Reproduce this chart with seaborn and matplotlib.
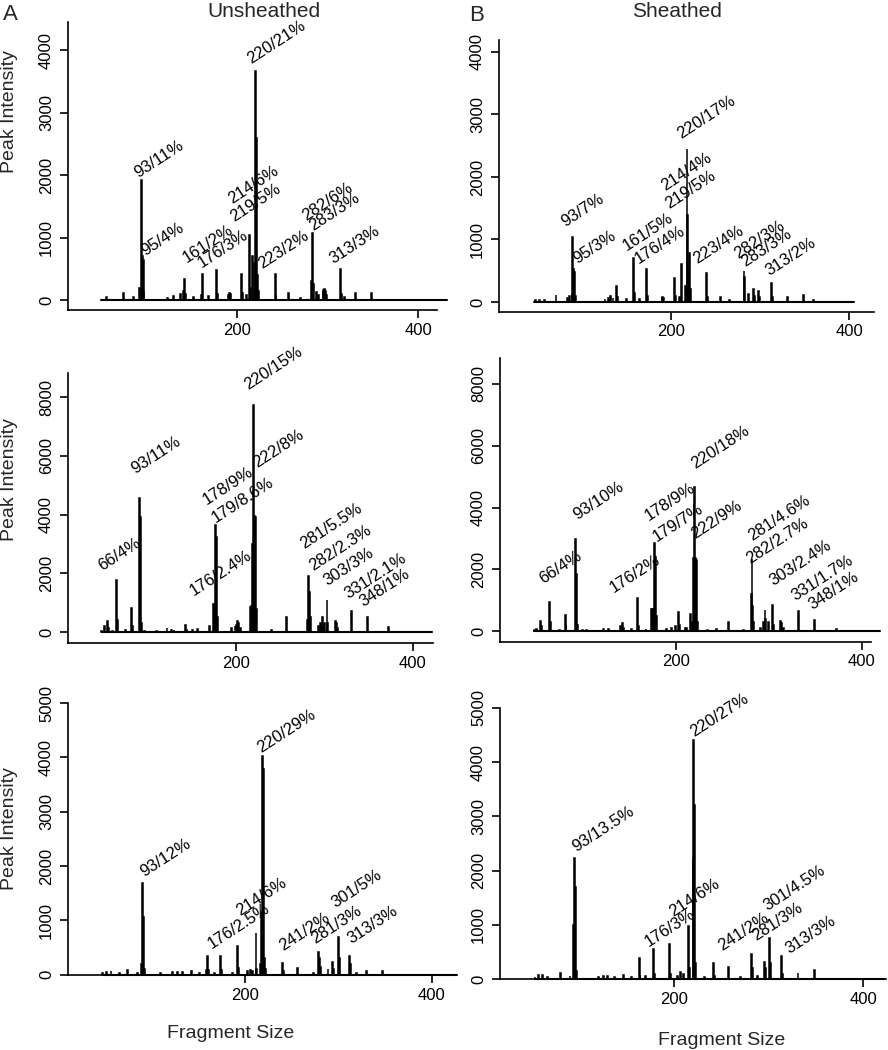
"""
Fragment size profiles, unsheathed vs sheathed (3 x 2 panels)
"""
import matplotlib
matplotlib.use('Agg')
import matplotlib.pyplot as plt
import seaborn as sns

sns.set_theme(style='ticks')
plt.rcParams['font.family'] = ['Liberation Sans', 'DejaVu Sans']

# ---- Panel A (unsheathed, top) ----
a_size = [56, 74, 85, 92, 94, 95, 96, 97, 123, 130, 137, 141, 142, 143, 152, 161, 162, 168,
          177, 178, 190, 191, 192, 193, 205, 206, 210, 214, 215, 217, 219, 220, 221, 222, 223,
          224, 242, 243, 257, 270, 282, 283, 284, 288, 290, 295, 296, 297, 298, 299, 314, 315,
          319, 331, 349]
a_height = [50, 115, 50, 200, 1920, 700, 640, 150, 40, 60, 100, 150, 330, 100, 50, 80, 420, 60,
            480, 100, 80, 100, 110, 90, 420, 120, 80, 1040, 200, 700, 600, 3670, 2600, 420, 400,
            150, 420, 80, 110, 30, 300, 1077, 250, 130, 80, 150, 160, 170, 150, 80, 490, 100,
            50, 117, 117]
a_scan = [50, 432]
a_labels = ['93/11%', '95/4%', '161/2%', '176/3%', '214/6%', '219/5%', '220/21%', '223/2%',
            '282/6%', '283/3%', '313/3%']
a_lab_x = [92, 100, 146, 162.6, 195.8, 198, 217.3, 229, 277.7, 286, 308]
a_lab_y = [1920, 670, 560, 480, 1490, 1216, 3744, 453, 1227, 1070, 533]

# ---- Panel B (sheathed, top) ----
b_size = [48, 52, 58, 71, 84, 86, 89, 90, 91, 92, 93, 126, 130, 132, 135, 139, 140, 150, 158,
          159, 165, 173, 174, 190, 191, 192, 204, 205, 210, 212, 216, 217, 218, 219, 220, 221,
          222, 240, 241, 256, 266, 282, 283, 287, 293, 294, 298, 299, 313, 314, 331, 349, 360]
b_height = [30, 30, 30, 112, 60, 100, 150, 1035, 520, 485, 100, 40, 60, 100, 60, 256, 80, 40,
            700, 150, 40, 523, 100, 80, 80, 60, 389, 100, 80, 608, 250, 250, 2450, 1390, 500,
            780, 200, 459, 80, 80, 30, 496, 400, 120, 200, 100, 180, 80, 300, 80, 80, 112, 30]
b_scan = [46, 405]
b_labels = ['93/7%', '95/3%', '161/5%', '176/4%', '214/4%', '219/5%', '220/17%', '223/4%',
            '282/3%', '283/3%', '313/2%']
b_lab_x = [83.5, 96.6, 152.8, 166, 195, 199.6, 213.8, 231.4, 277.5, 285.7, 312]
b_lab_y = [1152, 565, 779, 565, 1739, 1445, 2565, 565, 645, 512, 379]

# ---- Panel C (unsheathed, middle) ----
c_size = [48, 51, 55, 56, 60, 65, 66, 75, 82, 83, 91, 92, 93, 97, 110, 122, 127, 130, 143, 144,
          151, 157, 170, 175, 176, 177, 178, 179, 195, 199, 201, 202, 203, 205, 216, 217, 218,
          219, 220, 221, 222, 223, 240, 257, 281, 282, 283, 284, 293, 296, 298, 300, 303, 304,
          313, 314, 315, 331, 349, 373]
c_height = [50, 194, 387, 150, 50, 1763, 400, 60, 822, 200, 4553, 3900, 300, 40, 30, 150, 60,
            60, 250, 80, 80, 100, 200, 950, 960, 3640, 3250, 500, 150, 200, 250, 370, 300, 150,
            850, 860, 900, 3000, 7740, 3940, 3900, 800, 80, 512, 400, 1900, 1360, 500, 200, 300,
            512, 300, 1080, 300, 370, 300, 150, 720, 512, 170]
c_scan = [48, 422]
c_labels = ['66/4%', '93/11%', '176/2.4%', '178/9%', '179/8.6%', '220/15%', '222/8%',
            '281/5.5%', '282/2.3%', '303/3%', '331/2.1%', '348/1%']
c_lab_x = [50.2, 88.5, 154, 169, 178.6, 216, 225.4, 279, 289.3, 305.4, 328.7, 345.6]
c_lab_y = [2003, 5300, 1140, 4250, 3640, 8150, 5510, 2740, 2003, 1490, 1035, 750]

# ---- Panel D (sheathed, middle) ----
d_size = [48, 50, 55, 56, 64, 65, 75, 81, 82, 92, 93, 94, 100, 104, 122, 128, 141, 143, 144,
          152, 159, 160, 168, 174, 175, 176, 177, 178, 179, 190, 195, 200, 203, 204, 210, 212,
          216, 217, 218, 219, 220, 221, 222, 223, 234, 244, 257, 273, 281, 282, 283, 284, 291,
          294, 296, 297, 300, 304, 305, 313, 314, 316, 332, 349, 373]
d_height = [40, 76, 313, 150, 940, 300, 40, 508, 200, 2994, 1860, 200, 30, 30, 60, 60, 150, 260,
            100, 50, 1081, 150, 80, 700, 700, 700, 2860, 2400, 500, 80, 100, 150, 600, 200, 100,
            100, 560, 250, 300, 2350, 4650, 2350, 2300, 300, 40, 50, 292, 40, 1200, 2346, 800,
            300, 100, 300, 692, 400, 300, 832, 200, 313, 250, 100, 638, 346, 50]
d_scan = [48, 420]
d_labels = ['66/4%', '93/10%', '176/2%', '178/9%', '179/7%', '220/18%', '222/9%', '281/4.6%',
            '282/2.7%', '303/2.4%', '331/1.7%', '348/1%']
d_lab_x = [59.5, 95.3, 134.8, 172.4, 181.4, 222.6, 222.6, 284.2, 281.7, 306.8, 330.8, 348.7]
d_lab_y = [1427, 3502, 1157, 3481, 2810, 5156, 2886, 2832, 2075, 1373, 886, 584]

# ---- Panel E (unsheathed, bottom) ----
e_size = [48, 52, 57, 66, 75, 85, 90, 91, 92, 93, 110, 123, 128, 133, 143, 152, 159, 160, 161,
          168, 174, 175, 187, 192, 193, 203, 206, 208, 212, 213, 217, 218, 219, 220, 221, 222,
          240, 241, 256, 273, 279, 280, 281, 289, 294, 295, 300, 301, 312, 313, 319, 330, 347]
e_height = [40, 50, 60, 30, 80, 30, 200, 1695, 1070, 100, 30, 50, 50, 50, 60, 30, 80, 339, 80,
            40, 339, 80, 40, 530, 120, 70, 80, 70, 770, 100, 200, 1150, 4026, 3780, 300, 100,
            216, 60, 130, 40, 420, 300, 150, 100, 234, 100, 697, 300, 345, 200, 40, 60, 60]
e_scan = [48, 427]
e_labels = ['93/12%', '176/2.5%', '214/6%', '220/29%', '241/2%', '281/3%', '301/5%', '313/3%']
e_lab_x = [94, 166, 196.4, 219.6, 242.9, 276.8, 298.2, 315.4]
e_lab_y = [1757, 419, 1036, 4038, 388, 512, 1190, 512]

# ---- Panel F (sheathed, bottom) ----
f_size = [53, 57, 61, 66, 80, 90, 94, 95, 96, 97, 120, 125, 130, 137, 147, 155, 163, 164, 170,
          178, 179, 195, 196, 204, 207, 210, 215, 216, 220, 221, 222, 223, 232, 242, 243, 258,
          270, 282, 283, 288, 296, 297, 301, 302, 314, 315, 331, 348]
f_height = [40, 70, 70, 30, 105, 60, 1000, 2229, 1700, 150, 40, 50, 50, 40, 80, 30, 382, 80, 50,
            548, 100, 640, 100, 60, 130, 100, 970, 200, 2230, 4415, 3210, 300, 40, 290, 60, 228,
            40, 462, 200, 60, 320, 200, 764, 300, 425, 100, 105, 166]
f_scan = [53, 422]
f_labels = ['93/13.5%', '176/3%', '214/6%', '220/27%', '241/2%', '281/3%', '301/4.5%', '313/3%']
f_lab_x = [97.9, 174.6, 200.7, 222.9, 252.8, 288, 300.4, 323.2]
f_lab_y = [2291, 548, 1090, 4415, 474, 659, 1213, 413]

W, H = 888, 1050


def draw_panel(rect, sizes, heights, scan, labels, lab_x, lab_y, xlim, ylim, yticks):
    """1パネル分を描く (rect はピクセル: left, right, top, bottom)"""
    left, right, top, bottom = rect
    ax = fig.add_axes([left / W, 1 - bottom / H, (right - left) / W, (bottom - top) / H])
    sns.histplot(x=sizes, weights=heights, discrete=True, color='black', edgecolor='black',
                 linewidth=1.1, alpha=1, ax=ax)
    sns.lineplot(x=scan, y=[0, 0], color='black', linewidth=1.5, ax=ax, clip_on=False)
    for txt, lx, ly in zip(labels, lab_x, lab_y):
        ax.text(lx, ly, txt, rotation=33, rotation_mode='anchor', ha='left', va='bottom',
                fontsize=12, color='black')
    ax.set_xlim(*xlim)
    ax.set_ylim(*ylim)
    ax.set_xticks([200, 400])
    ax.set_yticks(yticks)
    ax.set_xlabel('')
    ax.set_ylabel('')
    ax.set_facecolor('white')
    sns.despine(ax=ax)
    for sp in ['left', 'bottom']:
        ax.spines[sp].set_linewidth(1.2)
        ax.spines[sp].set_color('black')
    ax.tick_params(axis='both', length=6, width=1.2, labelsize=12, colors='black')
    ax.tick_params(axis='x', pad=3)
    ax.tick_params(axis='y', pad=4)
    plt.setp(ax.get_yticklabels(), rotation=90, va='center')
    return ax


fig = plt.figure(figsize=(8.88, 10.5), dpi=100)
fig.patch.set_facecolor('white')

draw_panel((68, 437, 22, 310), a_size, a_height, a_scan, a_labels, a_lab_x, a_lab_y,
           (13, 421), (-160, 4450), [0, 1000, 2000, 3000, 4000])
draw_panel((499, 874, 40, 312), b_size, b_height, b_scan, b_labels, b_lab_x, b_lab_y,
           (7, 428), (-160, 4190), [0, 1000, 2000, 3000, 4000])
draw_panel((68, 433, 373, 643), c_size, c_height, c_scan, c_labels, c_lab_x, c_lab_y,
           (10, 423), (-374, 8817), [0, 2000, 4000, 6000, 8000])
draw_panel((500, 871, 358, 642), d_size, d_height, d_scan, d_labels, d_lab_x, d_lab_y,
           (11, 410), (-356, 8842), [0, 2000, 4000, 6000, 8000])
draw_panel((68, 444, 703, 975), e_size, e_height, e_scan, e_labels, e_lab_x, e_lab_y,
           (11, 413), (-5, 5000), [0, 1000, 2000, 3000, 4000, 5000])
draw_panel((500, 886, 708, 979), f_size, f_height, f_scan, f_labels, f_lab_x, f_lab_y,
           (16, 424), (0, 5000), [0, 1000, 2000, 3000, 4000, 5000])

# 見出し・軸ラベル
fig.text(3 / W, 1 - 20 / H, 'A', fontsize=16, ha='left', va='baseline')
fig.text(469 / W, 1 - 21 / H, 'B', fontsize=16, ha='left', va='baseline')
fig.text(264 / W, 1 - 17 / H, 'Unsheathed', fontsize=15, ha='center', va='baseline')
fig.text(677 / W, 1 - 17 / H, 'Sheathed', fontsize=15, ha='center', va='baseline')
for yc in [112, 480, 829]:
    fig.text(10 / W, 1 - yc / H, 'Peak Intensity', fontsize=14, rotation=90,
             ha='center', va='center')
fig.text(231 / W, 1 - 1038 / H, 'Fragment Size', fontsize=14, ha='center', va='baseline')
fig.text(722 / W, 1 - 1045 / H, 'Fragment Size', fontsize=14, ha='center', va='baseline')

fig.savefig('out.png', dpi=100, facecolor='white')
